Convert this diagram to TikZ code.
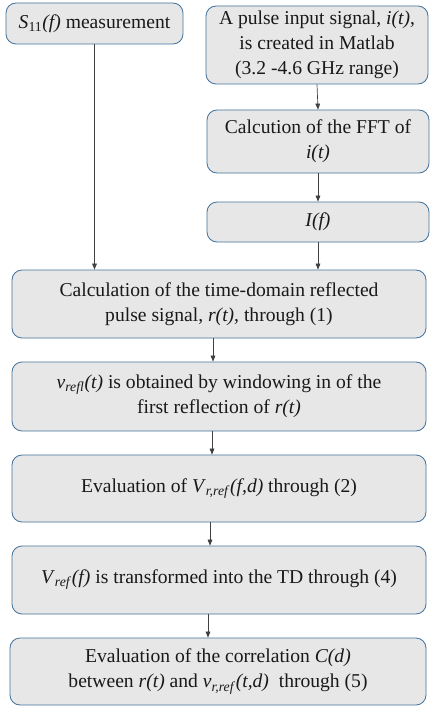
\documentclass[tikz,border=0pt]{standalone}
\usepackage{fontspec}
\setmainfont{Liberation Serif}
\usetikzlibrary{arrows.meta}

\definecolor{boxfill}{RGB}{231,231,231}
\definecolor{boxline}{RGB}{65,113,156}
\newcommand{\itsub}[2]{\textit{#1}\textsubscript{\textit{#2}}}

\begin{document}
\begin{tikzpicture}[x=0.75pt,y=0.75pt,yscale=-1,xscale=1,
  flowbox/.style={draw=boxline,line width=0.6pt,fill=boxfill,rounded corners=7.5pt,
    align=center,inner sep=2pt,font=\fontsize{14.7}{18.8}\selectfont,text=black!90},
  link/.style={draw=black!75,line width=0.5pt,-{Triangle[length=4.5pt,width=3.5pt]}}]
\useasboundingbox (0,0) rectangle (429,706);

% Nodes
\node [flowbox,minimum width=132.75pt,minimum height=30.75pt] (meas) at (94.5,23.5) {\textit{S}\textsubscript{11}\textit{(f)} measurement};
\node [flowbox,minimum width=166.5pt,minimum height=58.5pt] (pulse) at (317,45) {A pulse input signal, \textit{i(t)},\\is created in Matlab\\(3.2 -4.6 GHz range)};
\node [flowbox,minimum width=166.5pt,minimum height=47.25pt] (fft) at (318,141.5) {Calcution of the FFT of\\\textit{i(t)}};
\node [flowbox,minimum width=166.5pt,minimum height=30pt] (spec) at (318,222) {\textit{I(f)}};
\node [flowbox,minimum width=310.5pt,minimum height=51pt] (refl) at (219,304) {Calculation of the time-domain reflected\\pulse signal, \textit{r(t)}, through (1)};
\node [flowbox,minimum width=310.5pt,minimum height=51.75pt] (wind) at (219,396.5) {\itsub{v}{refl}\textit{(t)} is obtained by windowing in of the\\first reflection of \textit{r(t)}};
\node [flowbox,minimum width=310.5pt,minimum height=50.25pt] (evalv) at (219,488.5) {Evaluation of \itsub{V}{r,ref}\textit{(f,d)} through (2)};
\node [flowbox,minimum width=310.5pt,minimum height=51pt] (trans) at (219,580) {\itsub{V}{ref}\textit{(f)} is transformed into the TD through (4)};
\node [flowbox,minimum width=312pt,minimum height=50.25pt] (corr) at (218,671.5) {Evaluation of the correlation \textit{C(d)}\\between \textit{r(t)} and \itsub{v}{r,ref}\textit{(t,d)}~ through (5)};

% Connectors
\draw [link] (meas.south) -- (meas.south |- refl.north);
\draw [link] (pulse.south) -- (fft.north);
\draw [link] (fft.south) -- (spec.north);
\draw [link] (spec.south) -- (spec.south |- refl.north);
\draw [link] ([xshift=-4.5pt]refl.south) -- ([xshift=-4.5pt]wind.north);
\draw [link] ([xshift=-5.25pt]wind.south) -- ([xshift=-5.25pt]evalv.north);
\draw [link] ([xshift=-6.75pt]evalv.south) -- ([xshift=-6.75pt]trans.north);
\draw [link] ([xshift=-8.25pt]trans.south) -- ([xshift=-7.5pt]corr.north);

\end{tikzpicture}
\end{document}
